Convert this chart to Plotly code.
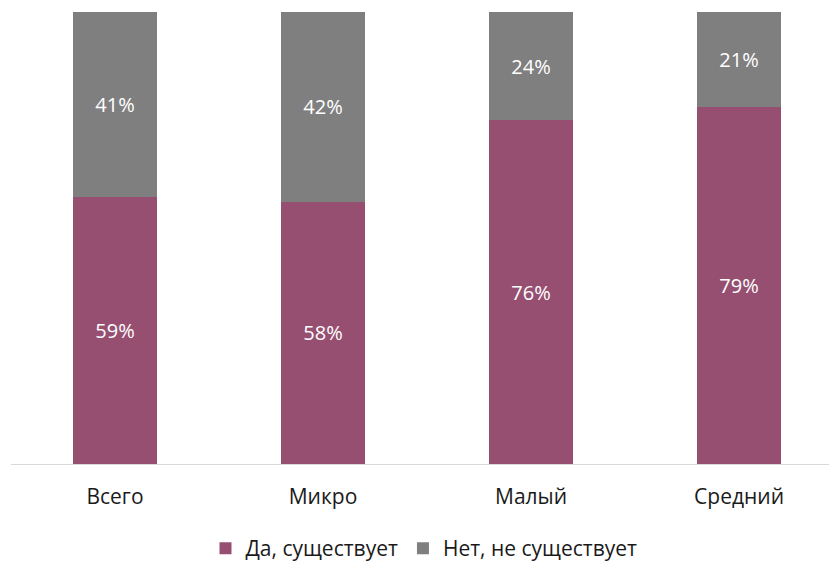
import plotly.graph_objects as go

categories = ["Всего", "Микро", "Малый", "Средний"]
yes_vals = [59, 58, 76, 79]
no_vals = [41, 42, 24, 21]
series_names = ["Да, существует", "Нет, не существует"]
colors = ["#964F71", "#7F7F7F"]

FONT = "'Open Sans', 'Noto Sans', sans-serif"

fig = go.Figure()
for name, vals, col in zip(series_names, [yes_vals, no_vals], colors):
    fig.add_trace(go.Bar(
        x=categories, y=vals, name=name,
        marker=dict(color=col, line=dict(width=0)),
        text=[f"{v}%" for v in vals], textposition="inside",
        insidetextanchor="middle",
        textfont=dict(color="white", size=20, family=FONT),
        width=0.4,
    ))

fig.update_layout(
    barmode="stack",
    width=829, height=561,
    margin=dict(l=3, r=0, t=4, b=104),
    plot_bgcolor="white", paper_bgcolor="white",
    font=dict(family=FONT, size=20, color="#1A1A1A"),
    showlegend=True,
    legend=dict(orientation="h", x=0.5, xanchor="center", y=-0.1876, yanchor="middle",
                font=dict(size=21, color="#1A1A1A"), itemwidth=30,
                traceorder="normal"),
    uniformtext=dict(mode=False),
)
fig.update_xaxes(range=[-0.5, 3.471], showline=True, linecolor="#D9D9D9", linewidth=1,
                 ticks="", tickfont=dict(size=21, color="#1A1A1A"), showgrid=False,
                 ticklabelstandoff=14)
fig.update_yaxes(range=[0, 100], visible=False, showgrid=False)

fig.write_html("out.html")
